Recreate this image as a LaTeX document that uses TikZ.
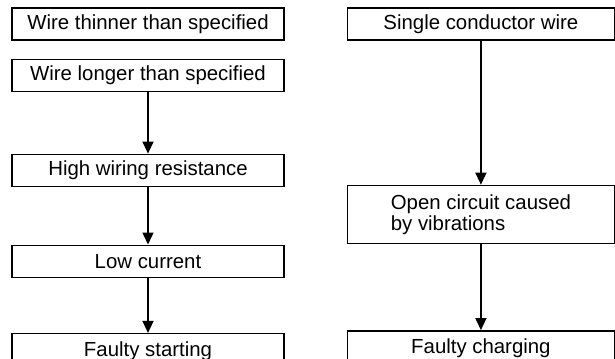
\documentclass[tikz,border=0pt]{standalone}
\usepackage{fontspec}
\setmainfont{Liberation Sans}
\usetikzlibrary{arrows.meta,positioning}

\begin{document}
\begin{tikzpicture}[box/.style={draw,line width=0.8pt,minimum width=5.44cm,
 minimum height=0.64cm,inner sep=0pt,align=center,font=\fontsize{11.6}{10.1}\selectfont},
 cut/.style={text height=0.45cm,text depth=0.25cm},
 flow/.style={-{Triangle[length=0.24cm,width=0.22cm]},line width=0.8pt}]
\useasboundingbox (-2.96,0.48) rectangle (9.34,-6.68);
\node[box] (thin) {Wire thinner than specified};
\node[box,below=0.36cm of thin] (long) {Wire longer than specified};
\node[box,below=1.23cm of long] (resist) {High wiring resistance};
\node[box,below=1.15cm of resist] (lowcur) {Low current};
\node[box,cut,below=1.10cm of lowcur] (start) {Faulty starting};
\node[box,minimum width=5.34cm,right=1.24cm of thin] (single) {Single conductor wire};
\node[box,minimum width=5.34cm,minimum height=1.16cm,align=left,
 below=2.88cm of single] (open) {Open circuit caused\\by vibrations};
\node[box,cut,minimum width=5.34cm,below=1.72cm of open] (charge) {Faulty charging};
\draw[flow] (long) -- (resist);
\draw[flow] (resist) -- (lowcur);
\draw[flow] (lowcur) -- (start);
\draw[flow] (single) -- (open);
\draw[flow] (open) -- (charge);
\end{tikzpicture}
\end{document}
